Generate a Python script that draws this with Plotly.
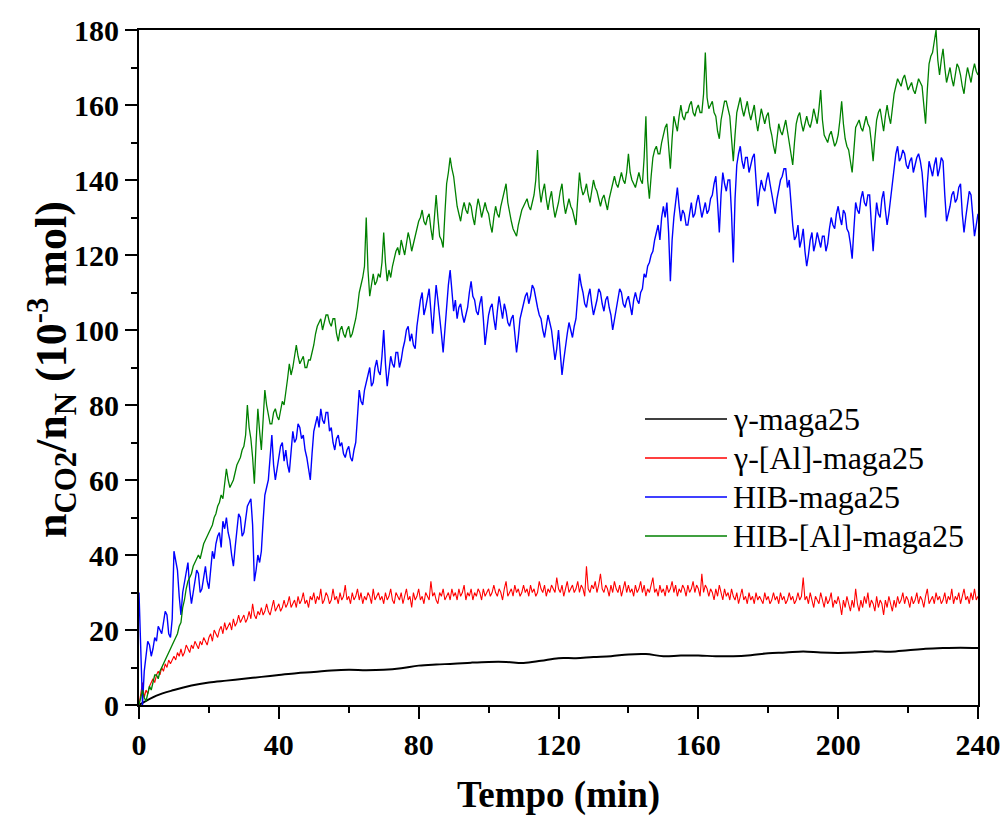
import plotly.graph_objects as go

# --- CO2 uptake curves (10^-3 mol), one value per half minute from t = 0 ---
# (each row covers 10 min)
hib_al = [
    0, 2, 4, 2, 1, 3, 5, 4, 6, 8, 8, 7, 9, 10, 11, 12, 13, 14, 15, 16,
    17, 18, 19, 21, 22, 26, 28, 31, 33, 34, 35, 37, 38, 39, 40, 39, 41, 43, 44, 45,
    46, 47, 48, 50, 51, 53, 54, 56, 55, 59, 63, 60, 58, 59, 60, 62, 64, 65, 66, 68,
    69, 72, 80, 74, 71, 66, 59, 70, 79, 73, 68, 76, 84, 80, 77, 75, 75, 78, 79, 77,
    76, 79, 81, 80, 83, 87, 91, 88, 90, 93, 96, 93, 91, 92, 93, 90, 90, 92, 92, 94,
    96, 99, 101, 102, 103, 100, 102, 104, 104, 102, 101, 103, 103, 99, 97, 100, 101, 99, 98, 100,
    101, 98, 99, 101, 103, 106, 110, 112, 114, 117, 130, 116, 109, 112, 115, 112, 113, 115, 114, 118,
    126, 118, 113, 116, 114, 117, 119, 121, 122, 120, 124, 122, 120, 123, 126, 124, 121, 123, 125, 127,
    129, 130, 132, 129, 128, 130, 131, 127, 124, 130, 136, 130, 125, 124, 122, 131, 139, 142, 146, 143,
    141, 137, 133, 131, 129, 132, 134, 132, 131, 134, 133, 130, 128, 132, 135, 133, 130, 132, 134, 132,
    131, 128, 126, 130, 133, 131, 130, 133, 135, 137, 139, 134, 131, 129, 127, 126, 125, 128, 130, 132,
    133, 134, 135, 133, 132, 134, 136, 140, 148, 138, 134, 137, 139, 135, 132, 135, 137, 133, 130, 132,
    134, 137, 139, 134, 131, 133, 135, 133, 132, 130, 128, 135, 142, 138, 136, 137, 139, 136, 134, 137,
    140, 138, 137, 135, 133, 135, 136, 134, 132, 135, 137, 139, 141, 139, 138, 140, 142, 140, 139, 142,
    147, 142, 140, 139, 138, 140, 142, 140, 139, 146, 157, 140, 135, 141, 146, 148, 149, 147, 147, 150,
    152, 154, 155, 149, 143, 151, 157, 155, 153, 157, 160, 157, 156, 158, 158, 160, 161, 158, 157, 159,
    160, 158, 158, 163, 174, 162, 159, 160, 161, 158, 157, 153, 151, 156, 159, 161, 161, 159, 157, 151,
    145, 152, 158, 160, 162, 159, 157, 159, 161, 158, 156, 158, 160, 156, 153, 156, 159, 157, 155, 157,
    158, 154, 152, 149, 147, 151, 155, 153, 152, 154, 156, 153, 150, 147, 144, 150, 155, 157, 158, 155,
    153, 155, 157, 155, 154, 156, 159, 157, 155, 159, 164, 156, 152, 151, 150, 152, 153, 151, 149, 150,
    152, 156, 161, 155, 151, 149, 148, 145, 142, 148, 154, 155, 156, 154, 153, 155, 157, 155, 154, 150,
    145, 151, 156, 158, 159, 156, 153, 157, 160, 157, 155, 159, 163, 165, 167, 166, 165, 167, 168, 166,
    164, 165, 166, 164, 163, 165, 167, 166, 165, 160, 155, 164, 171, 173, 174, 177, 180, 172, 168, 172,
    175, 170, 166, 168, 170, 167, 165, 168, 171, 170, 168, 165, 163, 167, 170, 168, 166, 169, 171, 169,
    168]

hib = [
    30, 12, 0, 9, 14, 17, 16, 13, 15, 18, 17, 21, 20, 19, 22, 25, 24, 19, 18, 23,
    41, 38, 36, 29, 24, 30, 33, 36, 38, 31, 27, 30, 33, 36, 35, 30, 31, 34, 37, 33,
    31, 36, 41, 39, 43, 45, 46, 42, 49, 47, 50, 46, 44, 40, 37, 42, 47, 51, 50, 45,
    46, 50, 53, 54, 55, 48, 33, 36, 40, 38, 41, 49, 56, 58, 60, 66, 72, 64, 60, 63,
    66, 69, 70, 65, 68, 64, 62, 68, 73, 70, 71, 75, 74, 71, 72, 68, 66, 63, 60, 67,
    73, 75, 77, 74, 79, 76, 75, 78, 78, 73, 74, 70, 68, 71, 72, 69, 70, 67, 66, 68,
    69, 66, 65, 68, 70, 77, 84, 81, 80, 84, 86, 88, 90, 85, 86, 90, 92, 89, 88, 93,
    100, 91, 85, 89, 93, 91, 90, 94, 94, 90, 92, 95, 97, 100, 101, 97, 99, 96, 95, 101,
    105, 108, 110, 104, 106, 109, 111, 105, 99, 106, 112, 108, 104, 99, 94, 101, 108, 112, 116, 110,
    105, 108, 103, 106, 107, 104, 102, 104, 106, 110, 113, 109, 108, 105, 104, 107, 109, 103, 96, 100,
    104, 106, 107, 103, 100, 105, 109, 106, 103, 107, 105, 102, 101, 103, 104, 99, 94, 98, 103, 105,
    107, 109, 110, 107, 109, 112, 111, 108, 106, 104, 103, 100, 98, 101, 104, 102, 100, 96, 92, 95,
    100, 94, 88, 92, 96, 99, 102, 100, 98, 101, 103, 109, 115, 112, 110, 107, 106, 109, 111, 107,
    104, 106, 108, 111, 110, 107, 105, 108, 109, 106, 104, 100, 103, 106, 108, 111, 110, 107, 106, 108,
    109, 106, 104, 108, 110, 108, 107, 110, 111, 115, 114, 117, 118, 120, 121, 124, 126, 128, 124, 130,
    133, 130, 134, 126, 113, 124, 130, 135, 138, 133, 129, 132, 131, 128, 128, 131, 134, 130, 131, 134,
    136, 133, 130, 132, 134, 131, 132, 135, 136, 139, 141, 134, 126, 136, 142, 139, 137, 140, 140, 131,
    118, 135, 144, 147, 149, 145, 143, 146, 146, 142, 144, 146, 147, 140, 133, 137, 140, 138, 137, 140,
    142, 139, 136, 134, 131, 135, 138, 140, 141, 143, 143, 138, 140, 133, 128, 124, 125, 128, 122, 124,
    127, 121, 117, 120, 124, 126, 121, 123, 126, 124, 122, 125, 125, 121, 123, 127, 130, 128, 127, 131,
    133, 130, 128, 132, 131, 127, 126, 123, 119, 127, 134, 132, 131, 135, 137, 134, 133, 136, 136, 128,
    121, 128, 134, 131, 130, 135, 137, 132, 128, 131, 135, 140, 144, 147, 149, 145, 146, 148, 147, 144,
    143, 145, 146, 142, 144, 146, 147, 145, 142, 136, 130, 139, 145, 143, 141, 144, 146, 141, 143, 146,
    145, 136, 129, 131, 133, 136, 137, 134, 135, 138, 139, 131, 126, 130, 134, 137, 136, 130, 125, 128,
    131]

gamma_al = [
    0, 3, 6, 2, 4, 3, 5, 6, 7, 6, 8, 9, 8, 10, 9, 11, 10, 12, 11, 12,
    13, 12, 14, 13, 15, 13, 14, 16, 15, 14, 16, 15, 17, 16, 15, 17, 16, 18, 17, 16,
    18, 19, 17, 20, 19, 18, 20, 21, 19, 22, 20, 21, 22, 20, 23, 21, 22, 24, 22, 23,
    24, 22, 23, 25, 23, 27, 24, 23, 25, 24, 26, 24, 25, 27, 25, 24, 26, 28, 25, 26,
    27, 25, 26, 28, 26, 27, 29, 26, 27, 28, 26, 29, 27, 28, 30, 27, 28, 26, 29, 28,
    30, 27, 29, 28, 31, 27, 28, 30, 29, 27, 28, 31, 28, 29, 27, 30, 28, 29, 32, 28,
    29, 27, 30, 28, 29, 31, 28, 30, 27, 29, 28, 30, 29, 27, 31, 28, 29, 30, 28, 29,
    27, 30, 28, 29, 31, 28, 27, 30, 29, 28, 30, 27, 29, 31, 28, 29, 26, 30, 28, 29,
    31, 28, 29, 27, 30, 29, 28, 33, 29, 30, 28, 27, 30, 29, 31, 28, 29, 30, 28, 31,
    29, 30, 28, 31, 29, 30, 32, 28, 30, 29, 31, 28, 30, 29, 31, 30, 28, 31, 29, 30,
    31, 29, 30, 32, 30, 29, 31, 30, 28, 31, 33, 29, 30, 31, 29, 32, 30, 31, 29, 30,
    32, 30, 31, 29, 32, 30, 31, 29, 30, 33, 31, 30, 32, 29, 31, 30, 32, 31, 30, 34,
    31, 30, 32, 29, 31, 33, 30, 31, 32, 30, 31, 33, 30, 32, 31, 29, 37, 31, 30, 32,
    31, 33, 30, 32, 35, 31, 30, 32, 31, 29, 32, 30, 33, 31, 30, 32, 29, 31, 33, 30,
    32, 30, 31, 29, 32, 30, 31, 33, 30, 32, 29, 31, 30, 32, 34, 30, 31, 29, 32, 30,
    31, 29, 32, 30, 31, 33, 30, 32, 29, 31, 30, 32, 31, 29, 32, 30, 31, 33, 30, 32,
    31, 29, 35, 30, 32, 31, 29, 31, 30, 28, 31, 29, 32, 30, 28, 31, 29, 30, 28, 31,
    29, 28, 30, 27, 29, 31, 28, 29, 27, 30, 28, 29, 27, 30, 28, 29, 28, 27, 30, 28,
    29, 27, 28, 30, 28, 29, 27, 30, 28, 29, 27, 28, 30, 28, 29, 27, 28, 30, 28, 29,
    34, 28, 29, 27, 30, 28, 26, 29, 28, 27, 30, 28, 26, 29, 27, 28, 30, 26, 28, 27,
    29, 27, 24, 28, 26, 29, 27, 25, 28, 26, 31, 27, 25, 28, 26, 29, 27, 30, 26, 28,
    27, 25, 29, 26, 28, 27, 24, 28, 26, 29, 27, 25, 28, 26, 29, 27, 28, 30, 27, 29,
    28, 26, 29, 27, 28, 30, 27, 29, 28, 26, 29, 31, 27, 28, 29, 27, 30, 28, 29, 27,
    28, 30, 27, 29, 28, 31, 27, 29, 28, 30, 27, 29, 31, 28, 29, 27, 30, 28, 31, 28,
    29]

# gamma series: smooth curve, sampled every 5 min
gamma_t = [0, 5, 10, 15, 20, 25, 30, 35, 40, 45, 50, 55, 60, 65, 70, 75, 80, 85, 90, 95,
           100, 105, 110, 115, 120, 125, 130, 135, 140, 145, 150, 155, 160, 165, 170, 175, 180,
           185, 190, 195, 200, 205, 210, 215, 220, 225, 230, 235, 240]
gamma = [0, 2.5, 4.0, 5.2, 6.0, 6.5, 7.0, 7.5, 8.0, 8.5, 8.8, 9.2, 9.4, 9.3, 9.4, 9.8, 10.5,
         10.8, 11.0, 11.3, 11.5, 11.5, 11.2, 11.8, 12.5, 12.5, 12.8, 13.0, 13.5, 13.6, 13.0,
         13.2, 13.2, 13.0, 13.0, 13.3, 13.8, 14.0, 14.3, 14.0, 13.9, 14.0, 14.3, 14.2, 14.6,
         15.0, 15.2, 15.3, 15.2]

names = ["γ-maga25", "γ-[Al]-maga25", "HIB-maga25", "HIB-[Al]-maga25"]
colors = ["#000000", "#ff0000", "#0000ff", "#008000"]

x_ticks = [0, 40, 80, 120, 160, 200, 240]
y_ticks = [0, 20, 40, 60, 80, 100, 120, 140, 160, 180]

SERIF = "Liberation Serif, Times New Roman, serif"


def half_minutes(values):
    return [0.5 * i for i in range(len(values))]


fig = go.Figure()
fig.add_trace(go.Scatter(x=gamma_t, y=gamma, mode="lines", name=names[0],
                         line=dict(color=colors[0], width=2, shape="spline")))
fig.add_trace(go.Scatter(x=half_minutes(gamma_al), y=gamma_al, mode="lines", name=names[1],
                         line=dict(color=colors[1], width=1.1)))
fig.add_trace(go.Scatter(x=half_minutes(hib), y=hib, mode="lines", name=names[2],
                         line=dict(color=colors[2], width=1.4)))
fig.add_trace(go.Scatter(x=half_minutes(hib_al), y=hib_al, mode="lines", name=names[3],
                         line=dict(color=colors[3], width=1.3)))

axis_common = dict(
    showline=True, linewidth=2, linecolor="black", mirror=True,
    showgrid=False, zeroline=False, automargin=False,
    ticks="outside", ticklen=12, tickwidth=2, tickcolor="black",
    tickfont=dict(family=SERIF, size=30, color="black", weight="bold"),
)
fig.update_xaxes(range=[0, 240], tickvals=x_ticks,
                 minor=dict(ticks="outside", ticklen=6, tickwidth=2, tickcolor="black",
                            tickvals=[20, 60, 100, 140, 180, 220]),
                 **axis_common)
fig.update_yaxes(range=[0, 180], tickvals=y_ticks,
                 minor=dict(ticks="outside", ticklen=6, tickwidth=2, tickcolor="black",
                            tickvals=[10, 30, 50, 70, 90, 110, 130, 150, 170]),
                 **axis_common)

# plot area in pixels: x 139..978, y 30..705
L, R, T, B = 139, 978, 30, 705


def px(xp):
    return (xp - L) / (R - L)


def py(yp):
    return (B - yp) / (B - T)


# legend drawn inside the plot: short line + label per series
shapes = []
annotations = []
for i, (nm, c) in enumerate(zip(names, colors)):
    yy = py(419 + 39 * i)
    shapes.append(dict(type="line", xref="paper", yref="paper",
                       x0=px(645), x1=px(727), y0=yy, y1=yy,
                       line=dict(color=c, width=1.3)))
    annotations.append(dict(text=nm, xref="paper", yref="paper", x=px(731), y=yy,
                            xanchor="left", yanchor="middle", showarrow=False,
                            font=dict(family=SERIF, size=32, color="black")))

annotations.append(dict(text="<b>Tempo (min)</b>", xref="paper", yref="paper",
                        x=0.5, y=py(795), xanchor="center", yanchor="middle",
                        showarrow=False, borderpad=0,
                        font=dict(family=SERIF, size=37, color="black")))
annotations.append(dict(text="<b>n<sub>CO2</sub>/n<sub>N</sub> (10<sup>-3</sup> mol)</b>",
                        xref="paper", yref="paper", x=px(52), y=py(370),
                        xanchor="center", yanchor="middle", textangle=-90,
                        showarrow=False, borderpad=0,
                        font=dict(family=SERIF, size=44, color="black")))

fig.update_layout(
    width=1003, height=817,
    margin=dict(l=L, r=1003 - R, t=T, b=817 - B),
    plot_bgcolor="white", paper_bgcolor="white",
    showlegend=False,
    shapes=shapes, annotations=annotations,
)

fig.write_html("out.html")
